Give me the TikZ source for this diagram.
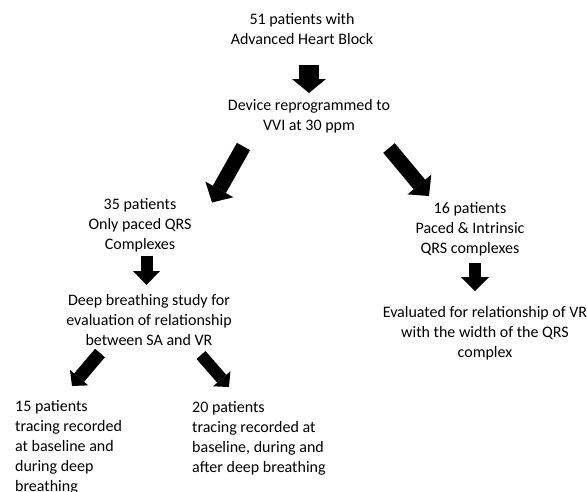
\documentclass[tikz,border=0pt]{standalone}
\usepackage{fontspec}
\setmainfont{Carlito}
\usetikzlibrary{arrows.meta,positioning,calc}

\tikzset{
  txt/.style={align=center,inner sep=0pt,font=\fontsize{16}{20}\selectfont},
  txtl/.style={align=left,inner sep=0pt,anchor=west,font=\fontsize{16}{20}\selectfont},
  blockarr/.style args={#1/#2/#3}{line width=#1,-{Triangle[length=#2,width=#3,line width=0pt]}}
}

\begin{document}
\begin{tikzpicture}[x=1pt,y=1pt]
    \useasboundingbox (0,0) rectangle (587,-491);
    % Top of the flow
    \node[txt] (start) at (302,-29) {51 patients with\\Advanced Heart Block};
    \node[txt] (vvi) at (309,-116) {Device reprogrammed to\\VVI at 30 ppm};
    \draw[blockarr=20pt/14pt/34pt] ([shift={(7,-36)}]start.center) -- ([shift={(0,23)}]vvi.center);
    % Left branch
    \node[txt] (paced) at (140,-225) {35 patients\\Only paced QRS\\Complexes};
    \node[txt] (deep) at (149,-320) {Deep breathing study for\\evaluation of relationship\\between SA and VR};
    \draw[blockarr=15pt/15pt/32pt] ([shift={(-65.5,-30.5)}]vvi.center) -- ([shift={(72,22.5)}]paced.center);
    \draw[blockarr=12pt/14pt/27pt] ([shift={(6.5,-30.5)}]paced.center) -- ([shift={(-2.5,35)}]deep.center);
    \node[txtl] (base15) at (15,-447) {15 patients\\tracing recorded\\at baseline and\\during deep\\breathing};
    \node[txtl] (base20) at (192,-438) {20 patients\\tracing recorded at\\baseline, during and\\after deep breathing};
    \draw[blockarr=13pt/11pt/24pt] ([shift={(-49,-33)}]deep.center) -- ([shift={(57,61)}]base15.west);
    \draw[blockarr=12pt/11pt/23pt] ([shift={(52,-35)}]deep.center) -- ([shift={(37,51)}]base20.west);
    % Right branch
    \node[txt] (mixed) at (470,-229) {16 patients\\Paced \& Intrinsic\\QRS complexes};
    \node[txt] (width) at (485,-333) {Evaluated for relationship of VR\\with the width of the QRS\\complex};
    \draw[blockarr=15pt/15pt/31pt] ([shift={(80,-32)}]vvi.center) -- ([shift={(-41,33)}]mixed.center);
    \draw[blockarr=12pt/14pt/28pt] ([shift={(5,-34)}]mixed.center) -- ([shift={(-10,42)}]width.center);
\end{tikzpicture}
\end{document}
